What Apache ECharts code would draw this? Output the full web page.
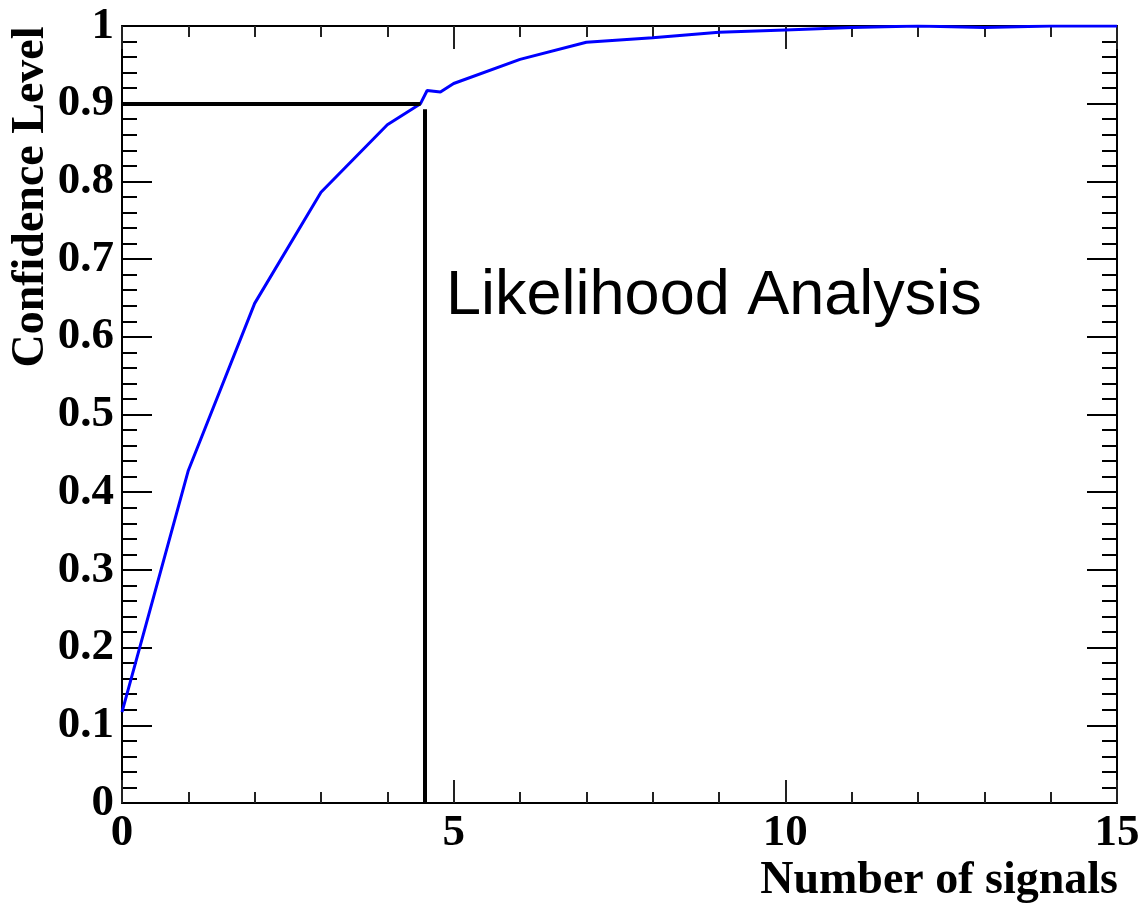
<!DOCTYPE html>
<html>
<head>
<meta charset="utf-8">
<script src="https://cdn.jsdelivr.net/npm/echarts@6/dist/echarts.min.js"></script>
<style>
  html, body { margin: 0; padding: 0; background: #fff; }
  #chart { width: 1143px; height: 906px; }
</style>
</head>
<body>
<div id="chart"></div>
<script>
  // number of signals and confidence level
  const signals = [0, 1, 2, 3, 4, 4.5, 4.6, 4.8, 5, 6, 7, 8, 9, 10, 11, 12, 13, 14, 15];
  const confLevel = [0.117, 0.428, 0.643, 0.786, 0.873, 0.9, 0.917, 0.915, 0.926, 0.957, 0.979, 0.985, 0.992, 0.995, 0.998, 1.0, 0.998, 1.0, 1.0];

  // 90% marker lines
  const clLevel = 0.9;
  const clSignalH = 4.5;   // end of horizontal line
  const clSignalV = 4.57;  // position of vertical line
  const clTopV = 0.893;

  const serif = '"Liberation Serif", "DejaVu Serif", serif';
  const sans = '"Liberation Sans", Arial, sans-serif';

  const myChart = echarts.init(document.getElementById('chart'));

  // shared axis look (ROOT style, ticks inside on all sides)
  function xAx(pos, showLabel) {
    return {
      type: 'value',
      position: pos,
      min: 0,
      max: 15,
      interval: 5,
      axisLine: { show: true, onZero: false, lineStyle: { color: '#000', width: 2 } },
      axisTick: { show: true, inside: true, length: 23, lineStyle: { color: '#222', width: 2 } },
      minorTick: { show: true, splitNumber: 5, length: 11, lineStyle: { color: '#222', width: 2 } },
      splitLine: { show: false },
      axisLabel: {
        show: showLabel,
        margin: 8,
        color: '#000',
        fontFamily: serif,
        fontWeight: 'bold',
        fontSize: 45
      }
    };
  }
  function yAx(pos, showLabel) {
    return {
      type: 'value',
      position: pos,
      min: 0,
      max: 1,
      interval: 0.1,
      axisLine: { show: true, onZero: false, lineStyle: { color: '#000', width: 2 } },
      axisTick: { show: true, inside: true, length: 30, lineStyle: { color: '#000', width: 2 } },
      minorTick: { show: true, splitNumber: 5, length: 15, lineStyle: { color: '#000', width: 2 } },
      splitLine: { show: false },
      axisLabel: {
        show: showLabel,
        margin: 8,
        color: '#000',
        fontFamily: serif,
        fontWeight: 'bold',
        fontSize: 45,
        formatter: function (v) { return String(Math.round(v * 10) / 10); }
      }
    };
  }

  const option = {
    backgroundColor: '#fff',
    animation: false,
    grid: { left: 122, right: 26, top: 26, bottom: 103, containLabel: false },
    xAxis: [xAx('bottom', true), xAx('top', false)],
    yAxis: [yAx('left', true), yAx('right', false)],
    graphic: [
      {
        type: 'text',
        x: 31, y: 197,
        rotation: Math.PI / 2,
        style: {
          text: 'Confidence Level',
          font: 'bold 46px ' + serif,
          fill: '#000',
          textAlign: 'center',
          textVerticalAlign: 'middle'
        }
      },
      {
        type: 'text',
        x: 1118, y: 881,
        style: {
          text: 'Number of signals',
          font: 'bold 46px ' + serif,
          fill: '#000',
          textAlign: 'right',
          textVerticalAlign: 'middle'
        }
      },
      {
        type: 'text',
        x: 446, y: 297,
        style: {
          text: 'Likelihood Analysis',
          font: '63px ' + sans,
          fill: '#000',
          textAlign: 'left',
          textVerticalAlign: 'middle'
        }
      }
    ],
    series: [
      {
        name: 'CL',
        type: 'line',
        xAxisIndex: 0,
        yAxisIndex: 0,
        showSymbol: false,
        symbol: 'none',
        lineStyle: { color: '#0000ff', width: 3 },
        data: signals.map((s, i) => [s, confLevel[i]]),
        markLine: {
          silent: true,
          symbol: 'none',
          label: { show: false },
          lineStyle: { color: '#000', width: 4, type: 'solid' },
          data: [
            [{ coord: [0, clLevel] }, { coord: [clSignalH, clLevel] }],
            [{ coord: [clSignalV, 0] }, { coord: [clSignalV, clTopV] }]
          ]
        }
      }
    ]
  };

  myChart.setOption(option, true);
</script>
</body>
</html>
